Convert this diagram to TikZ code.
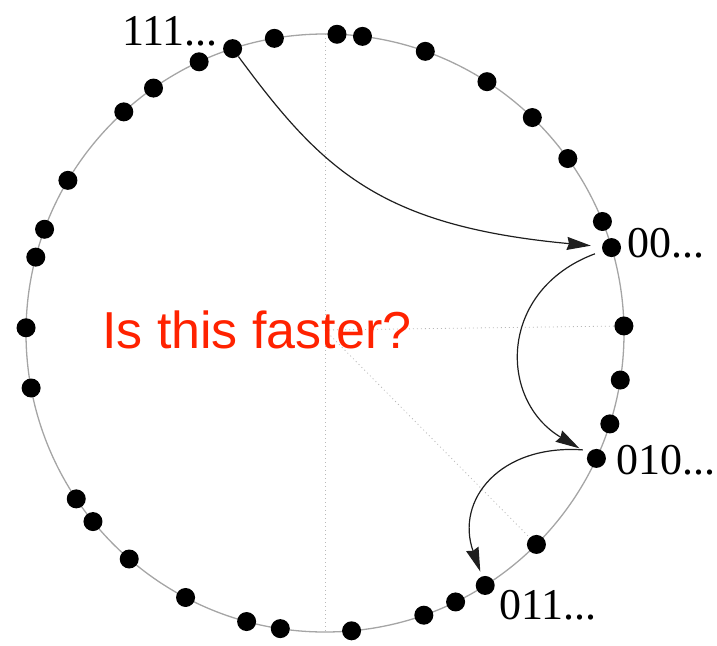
\documentclass[tikz,border=0pt]{standalone}
\usepackage{fontspec}
\setmainfont{Liberation Serif}
\newfontfamily\qfont{Liberation Sans}
\usetikzlibrary{arrows.meta}
\definecolor{qred}{RGB}{255,34,0}
\definecolor{ringgray}{RGB}{165,165,165}
\definecolor{guidegray}{RGB}{185,185,185}
\definecolor{arrowgray}{RGB}{30,30,30}
\tikzset{
  dot/.style={circle,fill=black,inner sep=0pt,minimum size=19pt},
  ring/.style={draw=ringgray,line width=1.3pt},
  guide/.style={draw=guidegray,line width=0.8pt,dash pattern=on 1pt off 3pt},
  hop/.style={draw=arrowgray,line width=1.2pt,-{Stealth[length=24pt,width=13pt,inset=2pt]}},
  lbl/.style={anchor=base west,inner sep=0pt,font=\fontsize{44}{50}\selectfont},
  question/.style={anchor=base west,inner sep=0pt,text=qred,font=\qfont\fontsize{52}{60}\selectfont}
}
\begin{document}
\begin{tikzpicture}[x=1pt,y=-1pt]
\useasboundingbox (0,0) rectangle (717,645);
\coordinate (c) at (325,330);
\coordinate (ctop) at (325,34);
\coordinate (cbot) at (325,632);
% dot positions
\foreach \a [count=\i] in {108.0,99.75,87.7,82.8,70.4,57.2,46.1,35.7,21.9,16.6,1.35,-9.05,-17.7,-24.8,-45,-57.6,-64.1,-70.7,-84.9,-98.6,-105.2,-117.8,-130.9,-140.9,-146.3,-169.4,179.0,165.3,159.7,149.3,132.3,125.0,114.9}
  \coordinate (p\i) at ({325+299*cos(\a)},{333-299*sin(\a)});
% guides
\draw[guide] (ctop) -- (cbot);
\draw[guide] (c) -- (p11);
\draw[guide] (c) -- (p15);
% ring
\draw[ring] (325,333) circle[radius=299];
% dots as nodes
\foreach \i in {1,...,33}
  \node[dot] (d\i) at (p\i) {};
% hops
\draw[hop,shorten >=11pt] (d1) .. controls (322,170) and (380,226) .. (d10);
\draw[hop,shorten <=8pt,shorten >=10pt] (d10) .. controls (498,290) and (498,400) .. (d14);
\draw[hop,shorten <=8pt,shorten >=5pt] (d14.125) .. controls (500,444) and (455,500) .. (d16);
% labels
\node[lbl] (l111) at (122,45) {111...};
\node[lbl] (l00) at (627,257) {00...};
\node[lbl] (l010) at (616,474) {010...};
\node[lbl] (l011) at (499,619) {011...};
\node[question] (q) at (102,348) {Is this faster?};
\end{tikzpicture}
\end{document}
